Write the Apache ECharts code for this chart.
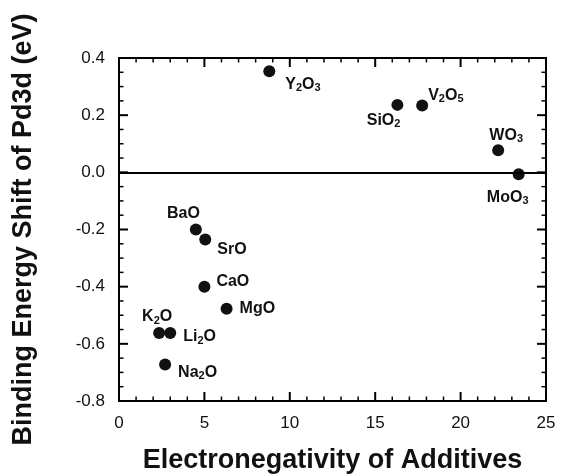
<!DOCTYPE html>
<html>
<head>
<meta charset="utf-8">
<script src="https://cdn.jsdelivr.net/npm/echarts@6/dist/echarts.min.js"></script>
<style>
  html, body { margin: 0; padding: 0; background: #fff; }
  #main { width: 561px; height: 476px; }
</style>
</head>
<body>
<div id="main"></div>
<script>
// oxides, electronegativity of the additive and Pd3d shift (eV)
var oxides = ['Y2O3', 'SiO2', 'V2O5', 'WO3', 'MoO3', 'BaO', 'SrO', 'CaO', 'MgO', 'K2O', 'Li2O', 'Na2O'];
var electroneg = [8.8, 16.3, 17.75, 22.2, 23.4, 4.5, 5.05, 5.0, 6.3, 2.35, 3.0, 2.7];
var shift = [0.354, 0.236, 0.234, 0.077, -0.007, -0.2, -0.235, -0.4, -0.477, -0.562, -0.562, -0.672];
var xTicks = [0, 5, 10, 15, 20, 25];
var yTicks = [-0.8, -0.6, -0.4, -0.2, 0.0, 0.2, 0.4];

// label placement around each dot: [dx, dy, align]
var labelPos = [
  [16, 13, 'left'], [3, 16, 'right'], [6, -10, 'left'], [8, -15, 'center'],
  [-11, 23, 'center'], [4, -16, 'right'], [12, 10, 'left'], [12, -5, 'left'],
  [13, 0, 'left'], [-2, -16, 'center'], [13, 4, 'left'], [13, 8, 'left']
];

var ink = '#000';
var font = 'Liberation Sans, Arial, sans-serif';
var dot = 12;
var xMin = 0, xMax = 25, yMin = -0.8, yMax = 0.4;

// digits in a formula become subscripts
function formula(s) {
  return s.replace(/([A-Za-z]+)|(\d+)/g, function (m, a, d) {
    return a ? '{n|' + a + '}' : '{s|' + d + '}';
  });
}

var points = oxides.map(function (name, i) {
  var p = labelPos[i];
  return {
    value: [electroneg[i], shift[i]],
    label: {
      show: true,
      formatter: formula(name),
      position: [dot / 2 + p[0], dot / 2 + p[1]],
      align: p[2],
      verticalAlign: 'middle'
    }
  };
});

// frame tick marks: [value, isMajor]; minor step 1 on x, 0.05 on y
var xTickMarks = [];
for (var i = 0; i <= 25; i++) xTickMarks.push([i, i % 5 === 0 ? 1 : 0]);
var yTickMarks = [];
for (var j = 0; j <= 24; j++) yTickMarks.push([+(yMin + j * 0.05).toFixed(2), j % 4 === 0 ? 1 : 0]);

function tickLine(x1, y1, x2, y2, major) {
  return {
    type: 'line',
    shape: { x1: x1, y1: y1, x2: x2, y2: y2 },
    style: { stroke: ink, lineWidth: major ? 2 : 1.5 }
  };
}

function xTickItem(params, api) {
  var major = api.value(1);
  var len = major ? 9 : 4.5;
  var a = api.coord([api.value(0), yMin]);
  var b = api.coord([api.value(0), yMax]);
  return {
    type: 'group',
    children: [
      tickLine(a[0], a[1], a[0], a[1] - len, major),
      tickLine(b[0], b[1], b[0], b[1] + len, major)
    ]
  };
}

function yTickItem(params, api) {
  var major = api.value(1);
  var len = major ? 9 : 4.5;
  var a = api.coord([xMin, api.value(0)]);
  var b = api.coord([xMax, api.value(0)]);
  return {
    type: 'group',
    children: [
      tickLine(a[0], a[1], a[0] + len, a[1], major),
      tickLine(b[0], b[1], b[0] - len, b[1], major)
    ]
  };
}

function frameAxis(pos, min, max, step) {
  return {
    type: 'value',
    position: pos,
    min: min, max: max, interval: step,
    axisLine: { show: true, onZero: false, lineStyle: { color: ink, width: 2 } },
    axisTick: { show: false },
    minorTick: { show: false },
    splitLine: { show: false }
  };
}

var xBottom = frameAxis('bottom', xMin, xMax, 5);
xBottom.name = 'Electronegativity of Additives';
xBottom.nameLocation = 'middle';
xBottom.nameGap = 46;
xBottom.nameTextStyle = { color: '#111', fontSize: 27, fontWeight: 'bold', fontFamily: font };
xBottom.axisLabel = {
  color: '#111', fontSize: 17, margin: 14, fontFamily: font,
  formatter: function (v) { return xTicks.indexOf(v) >= 0 ? String(v) : ''; }
};
var xTop = frameAxis('top', xMin, xMax, 5);
xTop.axisLabel = { show: false };

var yLeft = frameAxis('left', yMin, yMax, 0.2);
yLeft.name = 'Binding Energy Shift of Pd3d (eV)';
yLeft.nameLocation = 'middle';
yLeft.nameGap = 82;
yLeft.nameTextStyle = { color: '#111', fontSize: 27, fontWeight: 'bold', fontFamily: font };
yLeft.axisLabel = {
  color: '#111', fontSize: 17, margin: 14, fontFamily: font,
  formatter: function (v) {
    var t = yTicks.filter(function (y) { return Math.abs(y - v) < 1e-6; });
    return t.length ? t[0].toFixed(1) : '';
  }
};
var yRight = frameAxis('right', yMin, yMax, 0.2);
yRight.axisLabel = { show: false };

var chart = echarts.init(document.getElementById('main'));
chart.setOption({
  animation: false,
  grid: { left: 119, right: 15, top: 58, bottom: 75, containLabel: false, outerBoundsMode: 'none' },
  xAxis: [xBottom, xTop],
  yAxis: [yLeft, yRight],
  series: [
    {
      type: 'custom',
      silent: true,
      clip: false,
      renderItem: xTickItem,
      data: xTickMarks
    },
    {
      type: 'custom',
      silent: true,
      clip: false,
      renderItem: yTickItem,
      data: yTickMarks
    },
    {
      type: 'scatter',
      symbol: 'circle',
      symbolSize: dot,
      itemStyle: { color: '#111', opacity: 1 },
      label: {
        rich: {
          n: { fontSize: 16, fontWeight: 'bold', color: '#111', lineHeight: 18, fontFamily: font },
          s: { fontSize: 11, fontWeight: 'bold', color: '#111', lineHeight: 8, verticalAlign: 'bottom', fontFamily: font }
        }
      },
      data: points,
      markLine: {
        silent: true,
        symbol: 'none',
        label: { show: false },
        lineStyle: { color: ink, width: 2, type: 'solid' },
        data: [{ yAxis: 0 }]
      }
    }
  ]
});
</script>
</body>
</html>
